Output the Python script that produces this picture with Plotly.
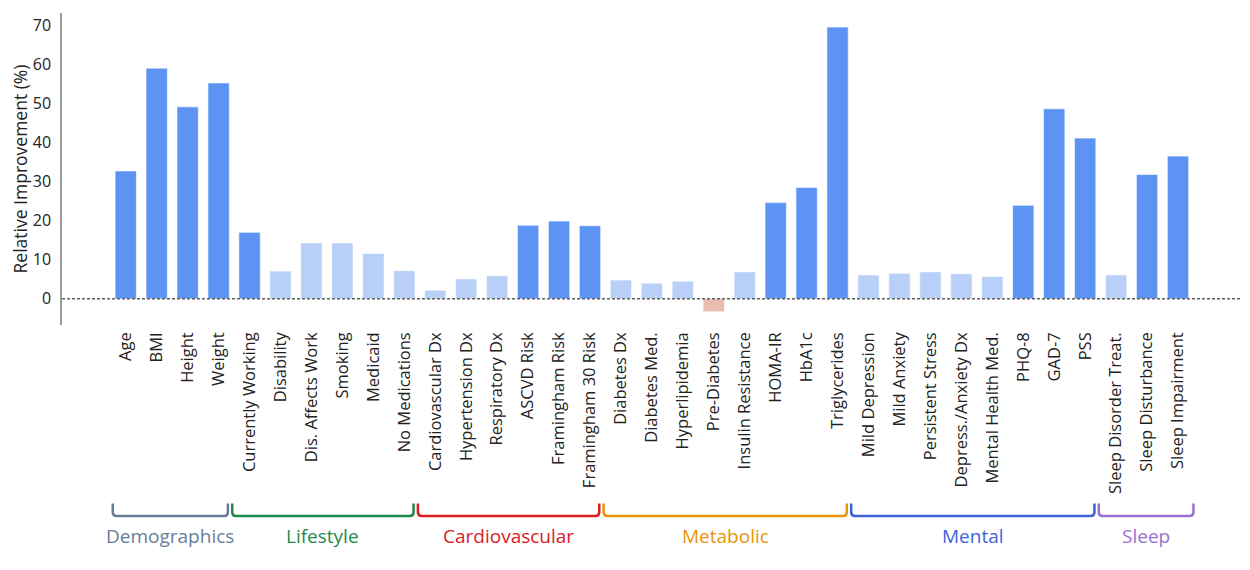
import plotly.graph_objects as go

categories = ['Age', 'BMI', 'Height', 'Weight',
              'Currently Working', 'Disability', 'Dis. Affects Work', 'Smoking', 'Medicaid', 'No Medications',
              'Cardiovascular Dx', 'Hypertension Dx', 'Respiratory Dx', 'ASCVD Risk', 'Framingham Risk', 'Framingham 30 Risk',
              'Diabetes Dx', 'Diabetes Med.', 'Hyperlipidemia', 'Pre-Diabetes', 'Insulin Resistance', 'HOMA-IR', 'HbA1c', 'Triglycerides',
              'Mild Depression', 'Mild Anxiety', 'Persistent Stress', 'Depress./Anxiety Dx', 'Mental Health Med.', 'PHQ-8', 'GAD-7', 'PSS',
              'Sleep Disorder Treat.', 'Sleep Disturbance', 'Sleep Impairment']

improvement = [32.7, 59.0, 49.1, 55.2,
               17.0, 7.1, 14.3, 14.3, 11.6, 7.2,
               2.2, 5.1, 5.9, 18.8, 19.9, 18.7,
               4.8, 4.0, 4.5, -3.3, 6.9, 24.6, 28.5, 69.5,
               6.1, 6.5, 6.9, 6.4, 5.7, 23.9, 48.6, 41.1,
               6.1, 31.8, 36.5]

# 1 = highlighted (dark blue), 0 = faded
highlight = [1, 1, 1, 1,
             1, 0, 0, 0, 0, 0,
             0, 0, 0, 1, 1, 1,
             0, 0, 0, 0, 0, 1, 1, 1,
             0, 0, 0, 0, 0, 1, 1, 1,
             0, 1, 1]

groups = ['Demographics', 'Lifestyle', 'Cardiovascular', 'Metabolic', 'Mental', 'Sleep']
group_sizes = [4, 6, 6, 8, 8, 3]
group_colors = ['#687d99', '#1f8a4d', '#d9201f', '#e8950c', '#3d62da', '#9b6fd3']

DARK = '#5d94f4'
LIGHT = '#b8d0f8'
NEG = '#eabcae'
FONT = 'Open Sans'

colors = []
for v, h in zip(improvement, highlight):
    if v < 0:
        colors.append(NEG)
    elif h:
        colors.append(DARK)
    else:
        colors.append(LIGHT)

xs = list(range(len(categories)))

fig = go.Figure()
fig.add_trace(go.Bar(
    x=xs, y=improvement,
    marker=dict(color=colors, line=dict(color='rgba(255,255,255,0.6)', width=1)),
    width=0.69,
    showlegend=False,
    hoverinfo='skip',
))

# dashed zero line
fig.add_shape(type='line', xref='paper', yref='y', x0=0, x1=1, y0=0, y1=0,
              line=dict(color='#606060', width=1.5, dash='3px,2px'), layer='above')

# group brackets under tick labels (rounded corners)
yb_top, yb_bot = -0.572, -0.612
rx, ry = 0.12, 0.012
start = 0
for k, (name, n, col) in enumerate(zip(groups, group_sizes, group_colors)):
    end = start + n - 1
    x0 = start - 0.56 if start > 0 else start - 0.42
    x1 = end + (0.5 if k == len(groups) - 1 else 0.3)
    path = (f'M {x0},{yb_top} L {x0},{yb_bot + ry} Q {x0},{yb_bot} {x0 + rx},{yb_bot} '
            f'L {x1 - rx},{yb_bot} Q {x1},{yb_bot} {x1},{yb_bot + ry} L {x1},{yb_top}')
    fig.add_shape(type='path', xref='x', yref='paper', path=path,
                  line=dict(color=col, width=2.5))
    fig.add_annotation(x=(x0 + x1) / 2, y=-0.676, xref='x', yref='paper',
                       text=name, showarrow=False,
                       font=dict(size=19, color=col, family=FONT),
                       yanchor='middle')
    start = end + 1

# page body adds an 8px offset, so the figure is a bit smaller than the window
fig.update_layout(
    width=1242, height=562,
    margin=dict(l=54, r=7, t=5, b=245, autoexpand=False),
    plot_bgcolor='white', paper_bgcolor='white',
    font=dict(family=FONT, color='#222222'),
)
fig.update_xaxes(
    range=[-2.06, 36.1], automargin=False,
    tickmode='array', tickvals=xs, ticktext=categories,
    tickangle=-90, tickfont=dict(size=16.5, color='#222222'),
    showgrid=False, zeroline=False, showline=False, ticks='', ticklen=0,
    ticklabelstandoff=3,
)
fig.update_yaxes(
    range=[-6.7, 73.1], automargin=False,
    tickvals=[0, 10, 20, 30, 40, 50, 60, 70],
    tickfont=dict(size=16, color='#222222'),
    title=dict(text='Relative Improvement (%)', font=dict(size=17.5, color='#222222'), standoff=3),
    showgrid=False, zeroline=False,
    showline=True, linecolor='#9a9a9a', linewidth=1.5,
    ticks='', ticklen=0, ticklabelstandoff=6,
)

fig.write_html("out.html")
